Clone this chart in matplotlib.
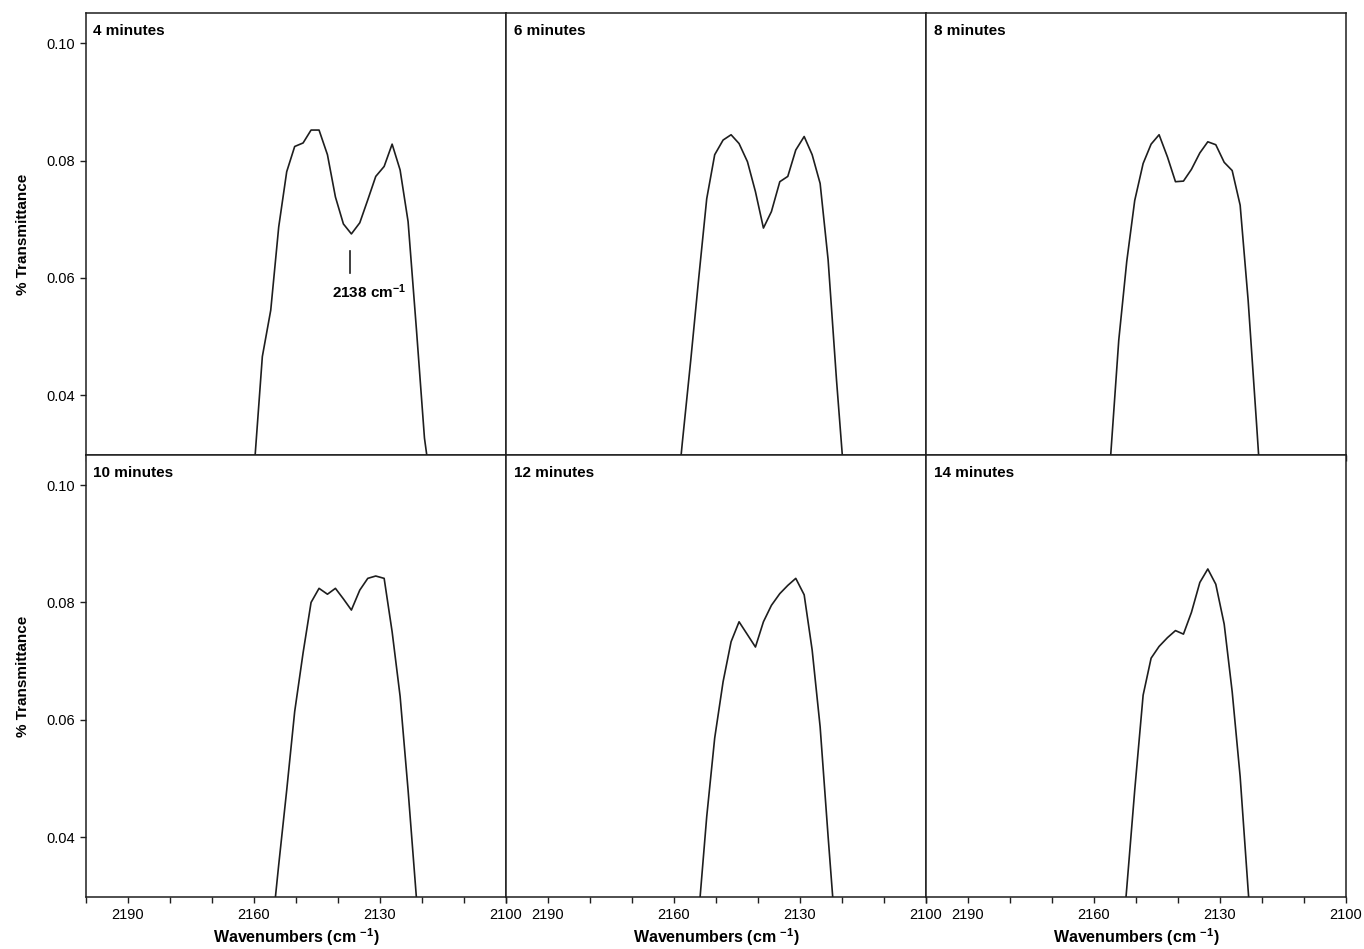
import numpy as np
import matplotlib.pyplot as plt
from matplotlib.ticker import FixedLocator, MultipleLocator

plt.rcParams['font.family'] = ['Liberation Sans', 'DejaVu Sans']
plt.rcParams['mathtext.fontset'] = 'custom'
plt.rcParams['mathtext.rm'] = 'Liberation Sans:bold'
plt.rcParams['mathtext.default'] = 'rm'

# wavenumber grid of the spectra (cm-1)
wavenumbers = [2163.7, 2161.8, 2159.9, 2158.0, 2156.0, 2154.1, 2152.2, 2150.3, 2148.3,
               2146.4, 2144.5, 2142.5, 2140.6, 2138.7, 2136.8, 2134.8, 2132.9, 2131.0,
               2129.0, 2127.1, 2125.2, 2123.3, 2121.3, 2119.4, 2117.5, 2115.6, 2113.6]

titles = ["4 minutes", "6 minutes", "8 minutes", "10 minutes", "12 minutes", "14 minutes"]

t4 = [0.005, 0.012, 0.028, 0.0466, 0.0545, 0.0687, 0.0781, 0.0824, 0.0830, 0.0852, 0.0852,
      0.0810, 0.0738, 0.0692, 0.0675, 0.0694, 0.0733, 0.0773, 0.0790, 0.0828, 0.0784, 0.0696,
      0.0511, 0.0327, 0.0227, 0.012, 0.005]
t6 = [0.004, 0.008, 0.018, 0.032, 0.046, 0.060, 0.0735, 0.0810, 0.0835, 0.0844, 0.0829,
      0.0798, 0.0747, 0.0685, 0.0713, 0.0764, 0.0773, 0.0818, 0.0841, 0.0810, 0.0761, 0.0631,
      0.0426, 0.025, 0.012, 0.006, 0.003]
t8 = [0.003, 0.005, 0.008, 0.015, 0.030, 0.0494, 0.0628, 0.0732, 0.0795, 0.0828, 0.0844,
      0.0806, 0.0764, 0.0765, 0.0785, 0.0813, 0.0832, 0.0827, 0.0797, 0.0783, 0.0724, 0.0562,
      0.0352, 0.0147, 0.008, 0.005, 0.003]
t10 = [0.003, 0.005, 0.008, 0.012, 0.022, 0.0353, 0.0480, 0.0614, 0.0714, 0.0800, 0.0824,
       0.0814, 0.0824, 0.0806, 0.0787, 0.0821, 0.0841, 0.0845, 0.0841, 0.0750, 0.0640, 0.0480,
       0.0295, 0.015, 0.008, 0.005, 0.003]
t12 = [0.003, 0.005, 0.008, 0.012, 0.018, 0.027, 0.0435, 0.0569, 0.0665, 0.0733, 0.0767,
       0.0745, 0.0724, 0.0767, 0.0795, 0.0815, 0.0829, 0.0841, 0.0813, 0.0719, 0.0588, 0.0401,
       0.0213, 0.012, 0.008, 0.005, 0.003]
t14 = [0.003, 0.005, 0.007, 0.010, 0.013, 0.015, 0.0313, 0.0480, 0.0642, 0.0705, 0.0725,
       0.0740, 0.0752, 0.0746, 0.0783, 0.0834, 0.0857, 0.0831, 0.0763, 0.0648, 0.0503, 0.0310,
       0.012, 0.008, 0.005, 0.004, 0.003]
spectra = [t4, t6, t8, t10, t12, t14]

# marker for the 2138 band in the first panel
mark_x = 2137.1
mark_y = [0.0608, 0.0646]
mark_text = "2138 cm$^{-1}$"
mark_text_pos = (2132.5, 0.0577)

xticks_major = [2190, 2160, 2130, 2100]
yticks = [0.04, 0.06, 0.08, 0.10]

line_col = '#1e1e1e'

fig, axes = plt.subplots(2, 3, figsize=(13.64, 9.49), dpi=100, sharex=True, sharey=True)
fig.subplots_adjust(left=0.063, right=0.9868, top=0.986, bottom=0.0548, wspace=0, hspace=0)

for k, ax in enumerate(axes.flat):
    row, col = divmod(k, 3)
    ax.plot(wavenumbers, spectra[k], color=line_col, lw=1.2)
    ax.set_xlim(2200, 2100)
    ax.set_ylim(0.0298, 0.1051)
    ax.xaxis.set_major_locator(FixedLocator(xticks_major))
    ax.xaxis.set_minor_locator(MultipleLocator(10))
    ax.yaxis.set_major_locator(FixedLocator(yticks))
    ax.yaxis.set_major_formatter(plt.FuncFormatter(lambda v, p: "%.2f" % v))
    ax.tick_params(which='both', direction='out', length=4.5, width=1.0, color=line_col,
                   labelsize=10.5, pad=3.5)
    for s in ax.spines.values():
        s.set_linewidth(1.1)
        s.set_color(line_col)
    if col > 0:
        ax.tick_params(axis='y', left=False)
    else:
        ax.set_ylabel("% Transmittance", fontsize=11, fontweight='bold', labelpad=12)
    if row == 1:
        ax.set_xlabel("Wavenumbers (cm $^{-1}$)", fontsize=11.5, fontweight='bold', labelpad=3)
    ax.text(0.018, 0.976, titles[k], transform=ax.transAxes, ha='left', va='top',
            fontsize=11, fontweight='bold')

ax0 = axes[0, 0]
ax0.plot([mark_x, mark_x], mark_y, color=line_col, lw=1.2)
ax0.text(mark_text_pos[0], mark_text_pos[1], mark_text, ha='center', va='center',
         fontsize=11, fontweight='bold')

fig.savefig('out.png', dpi=100)
